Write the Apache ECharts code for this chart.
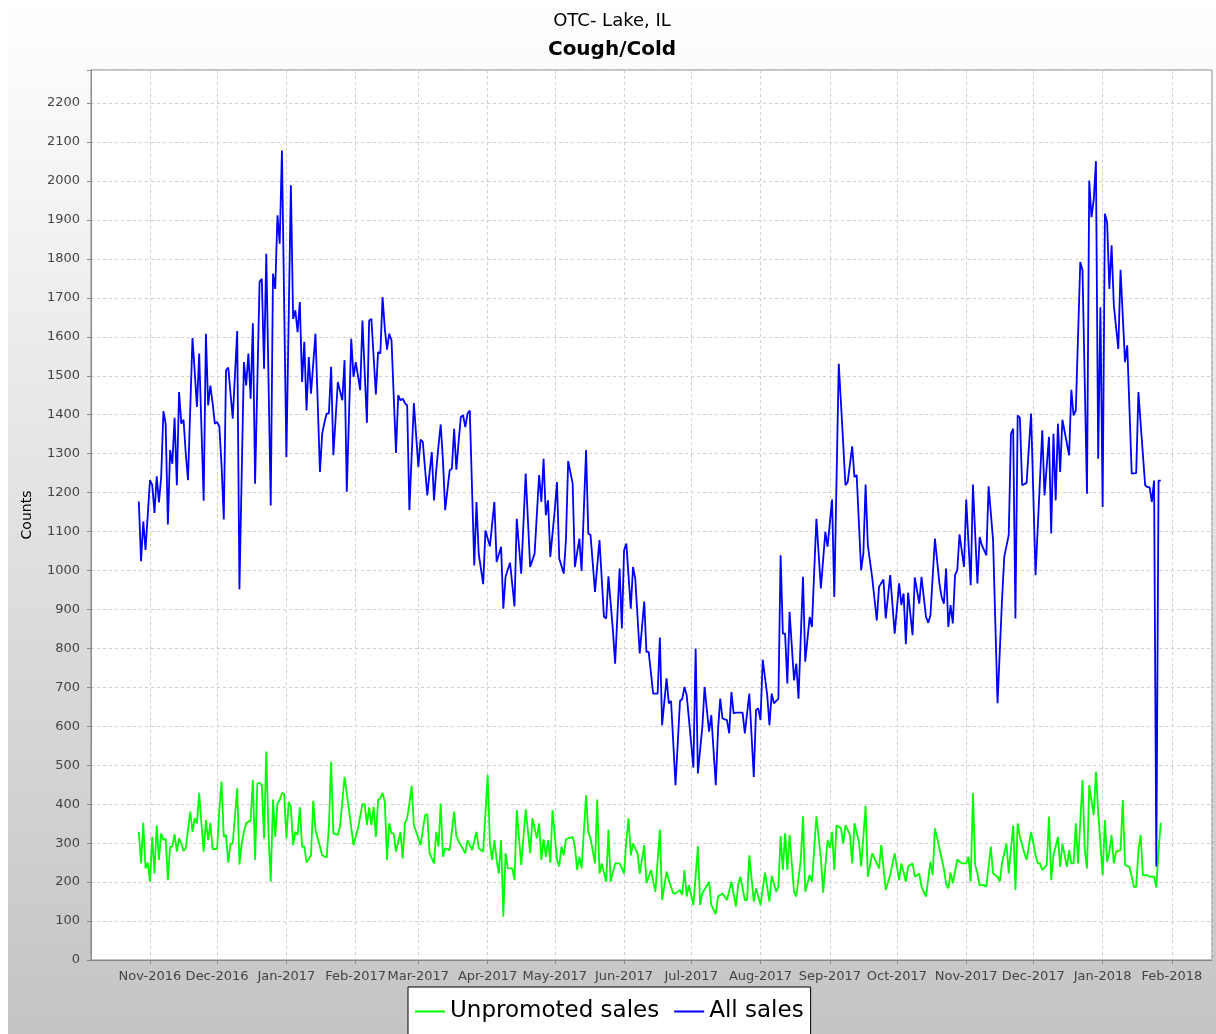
<!DOCTYPE html>
<html>
<head>
<meta charset="utf-8">
<script src="https://cdn.jsdelivr.net/npm/echarts@6/dist/echarts.min.js"></script>
<style>
  html, body { margin: 0; padding: 0; background: #ffffff; }
  #chart { position: absolute; left: 8px; top: 0; width: 1208px; height: 1034px; }
</style>
</head>
<body>
<div id="chart"></div>
<script>
// Titles / labels
const titleLine1 = 'OTC- Lake, IL';
const titleLine2 = 'Cough/Cold';
const yAxisTitle = 'Counts';
const monthNames = ['Jan','Feb','Mar','Apr','May','Jun','Jul','Aug','Sep','Oct','Nov','Dec'];
const seriesNames = ['Unpromoted sales', 'All sales'];

// Days counted from the first observation, 27 Oct 2016
const startDate = [2016, 9, 27];

// "All sales" (blue) — day offset / value
const allSalesDays = [0,1,2,3,5,6,7,8,9,10,11,12,13,14,15,16,17,18,19,20,21,22,24,25,26,27,29,30,31,32,33,34,35,36,37,38,39,40,41,42,44,45,47,48,49,50,51,52,54,55,56,57,59,60,61,62,63,64,66,68,69,70,71,72,73,74,75,76,77,79,81,82,83,84,85,86,87,89,90,91,92,93,95,96,97,98,99,100,102,103,104,106,107,108,109,110,111,112,113,115,116,117,118,119,120,121,123,125,126,127,129,130,131,132,133,134,135,136,137,139,140,141,142,143,144,145,146,147,148,150,151,152,154,155,157,159,160,162,163,164,166,168,169,171,173,175,177,179,180,181,182,183,184,186,187,188,190,191,192,194,195,197,198,200,201,202,204,206,208,209,210,212,213,215,216,217,218,220,221,222,224,226,227,228,230,232,233,234,236,237,238,240,242,243,244,245,248,249,250,252,253,255,256,258,259,260,261,263,264,265,266,267,270,271,273,275,276,277,278,279,281,282,283,284,286,287,288,289,290,291,293,294,295,297,298,300,301,303,305,307,308,310,311,313,314,316,317,319,320,321,323,324,325,326,328,330,331,333,334,336,338,340,341,342,343,344,346,347,349,350,352,353,354,356,358,359,360,361,362,363,364,365,366,367,369,370,372,373,375,376,377,379,380,382,384,386,387,389,390,391,392,393,394,395,397,399,401,404,405,407,408,409,410,411,412,413,416,417,418,419,421,422,424,425,426,427,428,429,430,431,432,433,434,435,436,438,439,441,442,444,446,447,448,450,451,452,453,454,455,456,457];
const allSalesValues = [1177,1024,1126,1053,1232,1220,1148,1242,1175,1240,1409,1377,1118,1309,1274,1392,1219,1458,1377,1387,1300,1232,1597,1510,1420,1557,1179,1608,1424,1475,1430,1377,1381,1370,1270,1131,1514,1521,1455,1390,1615,952,1535,1475,1557,1441,1635,1223,1741,1749,1518,1813,1167,1762,1723,1912,1839,2078,1291,1989,1646,1668,1612,1689,1484,1587,1411,1548,1454,1608,1253,1351,1380,1403,1403,1523,1296,1484,1460,1437,1540,1202,1595,1497,1535,1500,1463,1642,1379,1642,1646,1452,1561,1557,1702,1621,1567,1608,1591,1302,1450,1437,1441,1430,1424,1155,1430,1266,1336,1330,1193,1250,1304,1180,1257,1320,1375,1283,1155,1257,1262,1364,1259,1330,1394,1399,1368,1403,1411,1013,1176,1043,965,1103,1062,1176,1022,1061,902,984,1020,908,1133,992,1249,1009,1044,1245,1176,1287,1142,1180,1035,1155,1227,1031,992,1078,1281,1223,1009,1082,999,1309,1095,1091,945,1078,881,877,985,847,761,1005,851,1052,1069,902,1009,979,787,920,791,791,684,684,828,603,723,659,665,449,665,670,701,680,494,800,479,599,701,586,629,449,590,671,620,616,582,688,633,635,635,582,684,470,642,646,616,771,680,603,684,659,671,1039,838,838,710,894,718,761,671,984,766,881,855,1133,954,1099,1061,1182,932,1531,1428,1219,1227,1319,1240,1245,1001,1044,1221,1065,979,872,958,977,877,988,838,967,911,941,811,943,834,982,915,984,881,866,885,1082,967,932,915,1005,855,911,864,988,1001,1093,1009,1182,962,1221,967,1086,1065,1039,1216,1078,659,924,1035,1091,1351,1364,877,1398,1392,1219,1225,1403,988,1360,1193,1343,1095,1351,1180,1377,1253,1387,1296,1464,1398,1411,1792,1770,1197,2001,1907,1950,2051,1287,1676,1163,1916,1894,1723,1835,1681,1569,1772,1535,1578,1249,1250,1458,1377,1219,1214,1214,1176,1231,240,1231,1231];

// "Unpromoted sales" (green) — day offset / value
const unpromotedDays = [0,1,2,3,4,5,6,7,8,9,10,11,12,13,14,15,16,17,18,19,20,21,23,24,25,26,27,28,29,30,31,32,33,35,36,37,38,39,40,41,42,44,45,46,47,48,50,51,52,53,54,55,56,57,58,59,60,61,62,63,64,65,66,67,68,69,70,71,72,73,74,75,77,78,79,81,82,84,85,86,87,89,90,92,94,96,98,100,101,102,103,104,105,106,107,108,109,110,111,112,113,114,115,117,118,119,120,121,122,123,126,128,129,130,132,133,134,135,136,137,139,141,142,144,146,147,149,151,152,154,156,157,158,159,160,161,162,163,164,165,167,168,169,171,173,175,176,178,179,180,181,182,183,184,185,187,188,189,190,191,194,195,196,197,198,200,201,202,204,205,206,207,209,210,211,213,215,217,218,219,220,221,223,224,226,227,229,231,233,234,236,237,239,240,242,243,244,245,246,248,250,251,252,255,256,258,259,261,263,265,267,268,269,271,272,273,275,276,278,280,282,283,285,286,287,288,289,290,291,293,294,296,297,298,300,301,303,305,306,308,309,310,311,312,314,315,316,318,319,320,322,323,325,326,328,329,331,332,334,336,338,340,341,343,344,346,347,349,350,352,354,355,356,358,360,361,362,363,364,366,368,370,371,372,373,374,375,376,378,379,381,382,384,385,386,388,389,391,392,393,394,396,397,399,401,402,403,404,406,407,408,409,411,412,413,415,416,417,418,419,420,422,423,424,425,427,428,429,431,432,433,434,435,436,437,439,440,441,443,445,446,447,448,449,451,452,454,455,456,457];
const unpromotedValues = [329,248,352,235,250,201,316,222,346,257,325,308,312,205,291,291,323,278,312,299,280,287,381,329,364,351,429,351,278,359,308,352,285,285,385,458,316,321,250,299,299,441,245,299,329,351,359,462,257,453,455,449,312,535,325,201,412,316,402,411,429,426,312,406,393,295,329,321,392,291,291,250,269,409,334,291,269,263,342,509,325,321,344,470,385,295,338,400,400,346,392,346,393,316,411,415,429,406,257,351,325,325,278,329,261,351,364,402,447,346,295,372,375,274,248,329,291,402,265,287,282,381,316,295,274,308,282,329,287,278,475,299,257,308,257,222,308,111,274,235,235,205,385,244,387,274,364,312,351,257,310,265,308,250,385,257,240,291,269,310,316,291,231,265,235,423,329,312,248,412,222,248,201,334,201,248,248,222,308,364,269,299,274,222,295,197,231,175,335,154,227,205,171,171,180,167,231,163,192,141,292,141,171,201,141,118,163,171,154,201,137,192,214,154,154,269,150,184,141,224,150,216,175,188,318,231,325,231,321,175,163,257,369,175,218,201,369,261,173,308,287,329,231,346,338,299,346,321,248,351,304,240,395,214,274,261,235,295,180,218,274,205,248,201,240,248,214,222,188,163,252,218,338,287,235,195,184,224,197,258,248,248,265,201,429,244,222,192,192,188,291,222,214,201,248,299,222,346,180,351,316,274,257,329,269,248,248,231,244,368,205,269,316,239,299,239,282,248,248,351,248,462,282,235,449,372,483,381,218,359,252,278,321,248,278,282,411,244,239,188,188,282,321,218,218,214,214,186,282,352];

// Axis ranges
const yMin = 0, yMax = 2285, yStep = 100;
const xFromDaysBeforeNov2016 = 26.38;
const xToDaysAfterNov2016 = 474.9;

const DAY = 86400000;
const t0 = Date.UTC(startDate[0], startDate[1], startDate[2]);
const nov1 = Date.UTC(2016, 10, 1);
function toSeries(days, vals) { return days.map((d, i) => [t0 + d * DAY, vals[i]]); }

const FONT = 'DejaVu Sans';
const chart = echarts.init(document.getElementById('chart'), null, { renderer: 'canvas' });
chart.setOption({
  animation: false,
  useUTC: true,
  backgroundColor: {
    type: 'linear', x: 0, y: 0, x2: 0, y2: 1,
    colorStops: [{ offset: 0, color: '#ffffff' }, { offset: 1, color: '#c4c4c4' }]
  },
  title: [
    { text: titleLine1, left: 'center', top: 7,
      textStyle: { fontFamily: FONT, fontSize: 18, fontWeight: 'normal', color: '#000' } },
    { text: titleLine2, left: 'center', top: 35,
      textStyle: { fontFamily: FONT, fontSize: 20, fontWeight: 'bold', color: '#000' } }
  ],
  legend: {
    data: seriesNames,
    left: 400, top: 987,
    padding: [13, 7, 14, 7],
    itemGap: 15, itemWidth: 30, itemHeight: 2,
    icon: 'rect',
    backgroundColor: '#ffffff', borderColor: '#000000', borderWidth: 1,
    textStyle: { fontFamily: FONT, fontSize: 23, color: '#000' }
  },
  grid: { left: 83, right: 4, top: 70, bottom: 74, containLabel: false, outerBoundsMode: 'none',
    show: true, backgroundColor: '#ffffff', borderColor: '#888888', borderWidth: 1 },
  xAxis: {
    type: 'time',
    min: nov1 - xFromDaysBeforeNov2016 * DAY,
    max: nov1 + xToDaysAfterNov2016 * DAY,
    minInterval: 28 * DAY, maxInterval: 31 * DAY,
    axisLine: { show: true, onZero: false, lineStyle: { color: '#888888' } },
    axisTick: { show: true, length: 4, lineStyle: { color: '#888888' } },
    splitLine: { show: true, lineStyle: { color: '#cfcfcf', type: [3, 3], width: 1 } },
    axisLabel: {
      hideOverlap: false, margin: 10, fontFamily: FONT, fontSize: 13, color: '#444',
      formatter: function (v) {
        const d = new Date(v);
        if (d.getUTCDate() !== 1 || d.getUTCHours() !== 0) return '';
        return monthNames[d.getUTCMonth()] + '-' + d.getUTCFullYear();
      }
    }
  },
  yAxis: {
    type: 'value', min: yMin, max: yMax, interval: yStep,
    name: yAxisTitle, nameLocation: 'middle', nameRotate: 90, nameGap: 57,
    nameTextStyle: { fontFamily: FONT, fontSize: 14, color: '#000' },
    axisLine: { show: true, lineStyle: { color: '#888888' } },
    axisTick: { show: true, length: 4, lineStyle: { color: '#888888' } },
    splitLine: { show: true, lineStyle: { color: '#cfcfcf', type: [3, 3], width: 1 } },
    axisLabel: {
      margin: 11, fontFamily: FONT, fontSize: 13, color: '#444',
      formatter: function (v) { return v % yStep === 0 ? String(v) : ''; }
    }
  },
  series: [
    { name: seriesNames[0], type: 'line', showSymbol: false, symbol: 'none',
      data: toSeries(unpromotedDays, unpromotedValues),
      color: '#00ff00', lineStyle: { color: '#00ff00', width: 1.8 }, emphasis: { disabled: true } },
    { name: seriesNames[1], type: 'line', showSymbol: false, symbol: 'none',
      data: toSeries(allSalesDays, allSalesValues),
      color: '#0000ff', lineStyle: { color: '#0000ff', width: 1.8 }, emphasis: { disabled: true } }
  ]
});
</script>
</body>
</html>
